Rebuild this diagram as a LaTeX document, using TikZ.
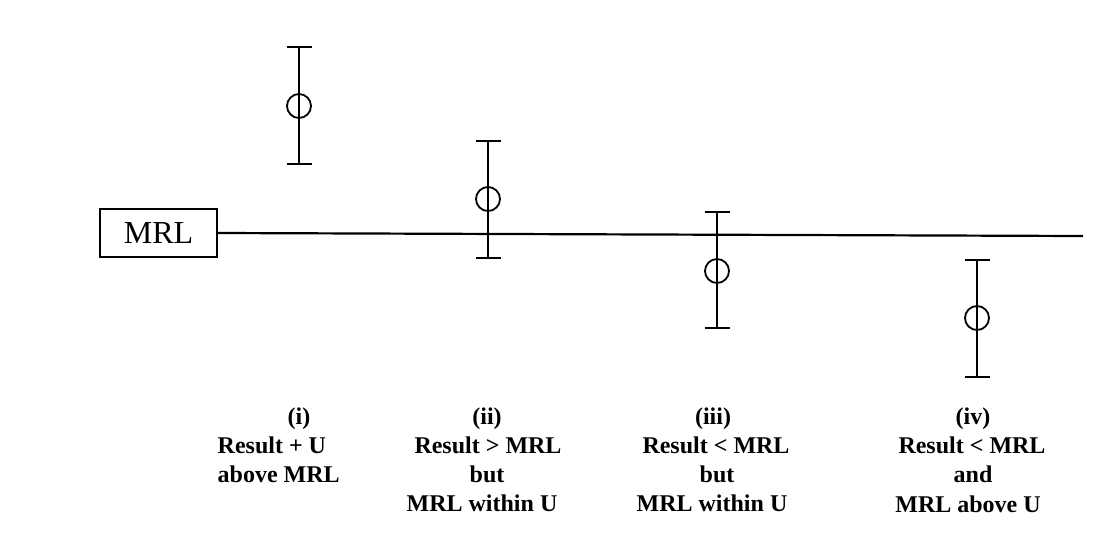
\documentclass[tikz,border=0pt]{standalone}
\usepackage{fontspec}
\setmainfont{Liberation Serif}
\begin{document}
\begin{tikzpicture}[x=1pt, y=-1pt,
  rule/.style={line width=2.2pt, black},
  mean/.style={circle, draw, line width=1.8pt, minimum size=24pt, inner sep=0pt},
  captext/.style={font=\bfseries\fontsize{24}{29}\selectfont, inner sep=0pt, anchor=base},
  captextleft/.style={captext, anchor=base west}]
\useasboundingbox (0,0) rectangle (1112,541);

% reference level box and line
\node[draw, line width=2.2pt, minimum width=117pt, minimum height=48pt, inner sep=0pt,
      font=\fontsize{32}{32}\selectfont] (mrl) at (158.5,233) {MRL};
\coordinate (lineend) at (1083,236);
\draw[rule] (mrl.east) -- (lineend);

% results with their uncertainty bars
\foreach \n/\x/\t/\c/\b in {1/299/47/106/164, 2/488/141/199/258, 3/717/212/271/328, 4/977/260/318/377} {
  \coordinate (top\n) at (\x,\t);
  \coordinate (bot\n) at (\x,\b);
  \node[mean] (res\n) at (\x,\c) {};
  \draw[rule] (top\n) -- (bot\n);
  \draw[rule] ([xshift=-12.5pt]top\n) -- ([xshift=12.5pt]top\n);
  \draw[rule] ([xshift=-12.5pt]bot\n) -- ([xshift=12.5pt]bot\n);
}

% captions
\node[captext] (c1a) at (299,424) {(i)};
\node[captextleft] (c1b) at (217.5,453) {Result + U};
\node[captextleft] (c1c) at (217.5,482) {above MRL};

\node[captext] (c2a) at (487,424) {(ii)};
\node[captext] (c2b) at (488,453) {Result > MRL};
\node[captext] (c2c) at (487,482) {but};
\node[captext] (c2d) at (482,511) {MRL within U};

\node[captext] (c3a) at (713,424) {(iii)};
\node[captext] (c3b) at (716,453) {Result < MRL};
\node[captext] (c3c) at (717,482) {but};
\node[captext] (c3d) at (712,511) {MRL within U};

\node[captext] (c4a) at (973,424) {(iv)};
\node[captext] (c4b) at (972,453) {Result < MRL};
\node[captext] (c4c) at (973,482) {and};
\node[captext] (c4d) at (968,512) {MRL above U};
\end{tikzpicture}
\end{document}
